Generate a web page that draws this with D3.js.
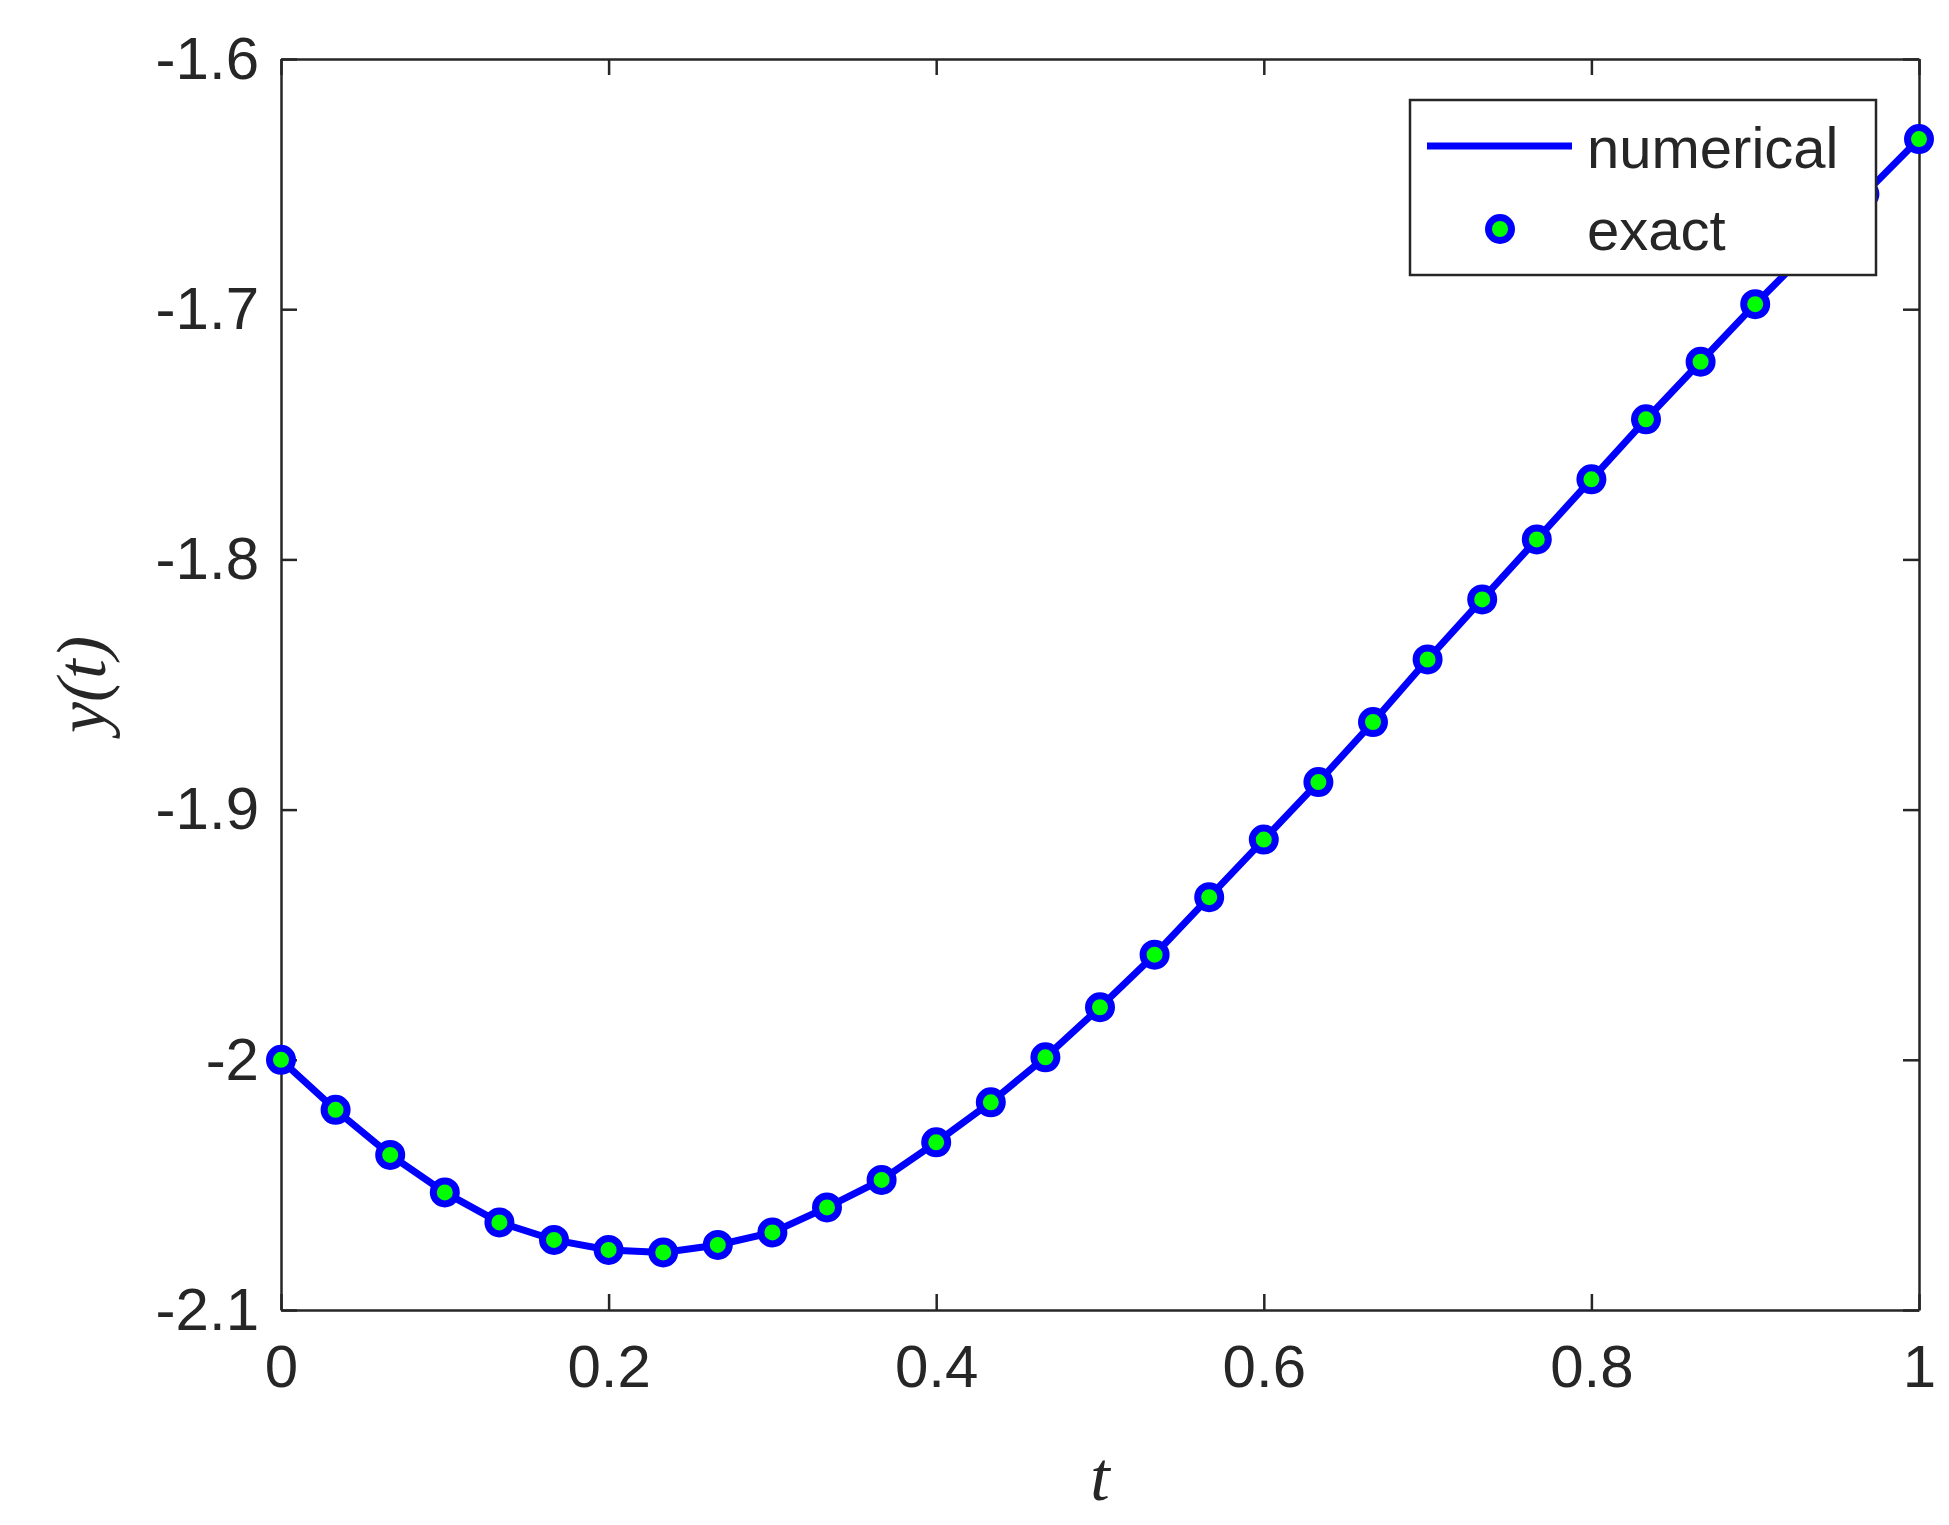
<!DOCTYPE html>
<html>
<head>
<meta charset="utf-8">
<script src="https://cdnjs.cloudflare.com/ajax/libs/d3/7.8.5/d3.min.js"></script>
<style>
html, body { margin:0; background:#fff; }
text { font-family: Arial, "Liberation Sans", sans-serif; fill:#262626; }
</style>
</head>
<body>
<svg id="chart" width="1949" height="1525"></svg>
<script>
// t = 0 : 1/30 : 1
var tVals = d3.range(31).map(function(i){ return i / 30; });
var yVals = [-2.000, -2.020, -2.038, -2.053, -2.065, -2.072, -2.076, -2.077, -2.074, -2.069,
             -2.059, -2.048, -2.033, -2.017, -1.999, -1.979, -1.958, -1.935, -1.912, -1.889,
             -1.865, -1.840, -1.816, -1.792, -1.768, -1.744, -1.721, -1.698, -1.676, -1.654, -1.632];
var xTicks = [0, 0.2, 0.4, 0.6, 0.8, 1];
var yTicks = [-2.1, -2, -1.9, -1.8, -1.7, -1.6];

var L = 281, R = 1919, T = 59, B = 1310;
var svg = d3.select("#chart");
var x = d3.scaleLinear().domain([0, 1]).range([L, R]);
var y = d3.scaleLinear().domain([-2.1, -1.6]).range([B, T]);
var data = tVals.map(function(t, i){ return {t: t, y: yVals[i]}; });
var fmt = function(d){ return String(d); };   // plain hyphen minus like MATLAB

// axes (ticks inward, mirrored)
var tk = 16;
function styleAxis(g){
  g.selectAll("path").attr("stroke", "#262626").attr("stroke-width", 2.5);
  g.selectAll("line").attr("stroke", "#262626").attr("stroke-width", 2.5);
}
svg.append("g").attr("transform", "translate(0," + B + ")")
  .call(d3.axisBottom(x).tickValues(xTicks).tickFormat(fmt).tickSizeInner(-tk).tickSizeOuter(0).tickPadding(34))
  .call(styleAxis).selectAll("text").style("font-size", "60px");
svg.append("g").attr("transform", "translate(0," + T + ")")
  .call(d3.axisTop(x).tickValues(xTicks).tickFormat("").tickSizeInner(-tk).tickSizeOuter(0)).call(styleAxis);
svg.append("g").attr("transform", "translate(" + L + ",0)")
  .call(d3.axisLeft(y).tickValues(yTicks).tickFormat(fmt).tickSizeInner(-tk).tickSizeOuter(0).tickPadding(22))
  .call(styleAxis).selectAll("text").style("font-size", "60px");
svg.append("g").attr("transform", "translate(" + R + ",0)")
  .call(d3.axisRight(y).tickValues(yTicks).tickFormat("").tickSizeInner(-tk).tickSizeOuter(0)).call(styleAxis);

// axis labels
svg.append("text").attr("x", (L + R) / 2).attr("y", 1500).attr("text-anchor", "middle")
  .style("font-family", "'Liberation Serif', serif").style("font-style", "italic").style("font-size", "70px").text("t");
svg.append("text").attr("transform", "translate(105," + (T + B) / 2 + ") rotate(-90)").attr("text-anchor", "middle")
  .style("font-family", "'Liberation Serif', serif").style("font-style", "italic").style("font-size", "70px").text("y(t)");

// numerical line
svg.append("path").datum(data)
  .attr("fill", "none").attr("stroke", "#0000ff").attr("stroke-width", 7)
  .attr("d", d3.line().x(function(d){ return x(d.t); }).y(function(d){ return y(d.y); }));

// exact markers
svg.append("g").selectAll("circle").data(data).enter().append("circle")
  .attr("cx", function(d){ return x(d.t); }).attr("cy", function(d){ return y(d.y); })
  .attr("r", 11.5).attr("fill", "#00ff00").attr("stroke", "#0000ff").attr("stroke-width", 7);

// legend
var lg = svg.append("g");
lg.append("rect").attr("x", 1410).attr("y", 100).attr("width", 466).attr("height", 175)
  .attr("fill", "#fff").attr("stroke", "#262626").attr("stroke-width", 2.5);
lg.append("line").attr("x1", 1427).attr("x2", 1572).attr("y1", 146).attr("y2", 146)
  .attr("stroke", "#0000ff").attr("stroke-width", 7);
lg.append("text").attr("x", 1587).attr("y", 168).style("font-size", "58px").text("numerical");
lg.append("circle").attr("cx", 1500).attr("cy", 229).attr("r", 11.5)
  .attr("fill", "#00ff00").attr("stroke", "#0000ff").attr("stroke-width", 7);
lg.append("text").attr("x", 1587).attr("y", 250).style("font-size", "58px").text("exact");
</script>
</body>
</html>
